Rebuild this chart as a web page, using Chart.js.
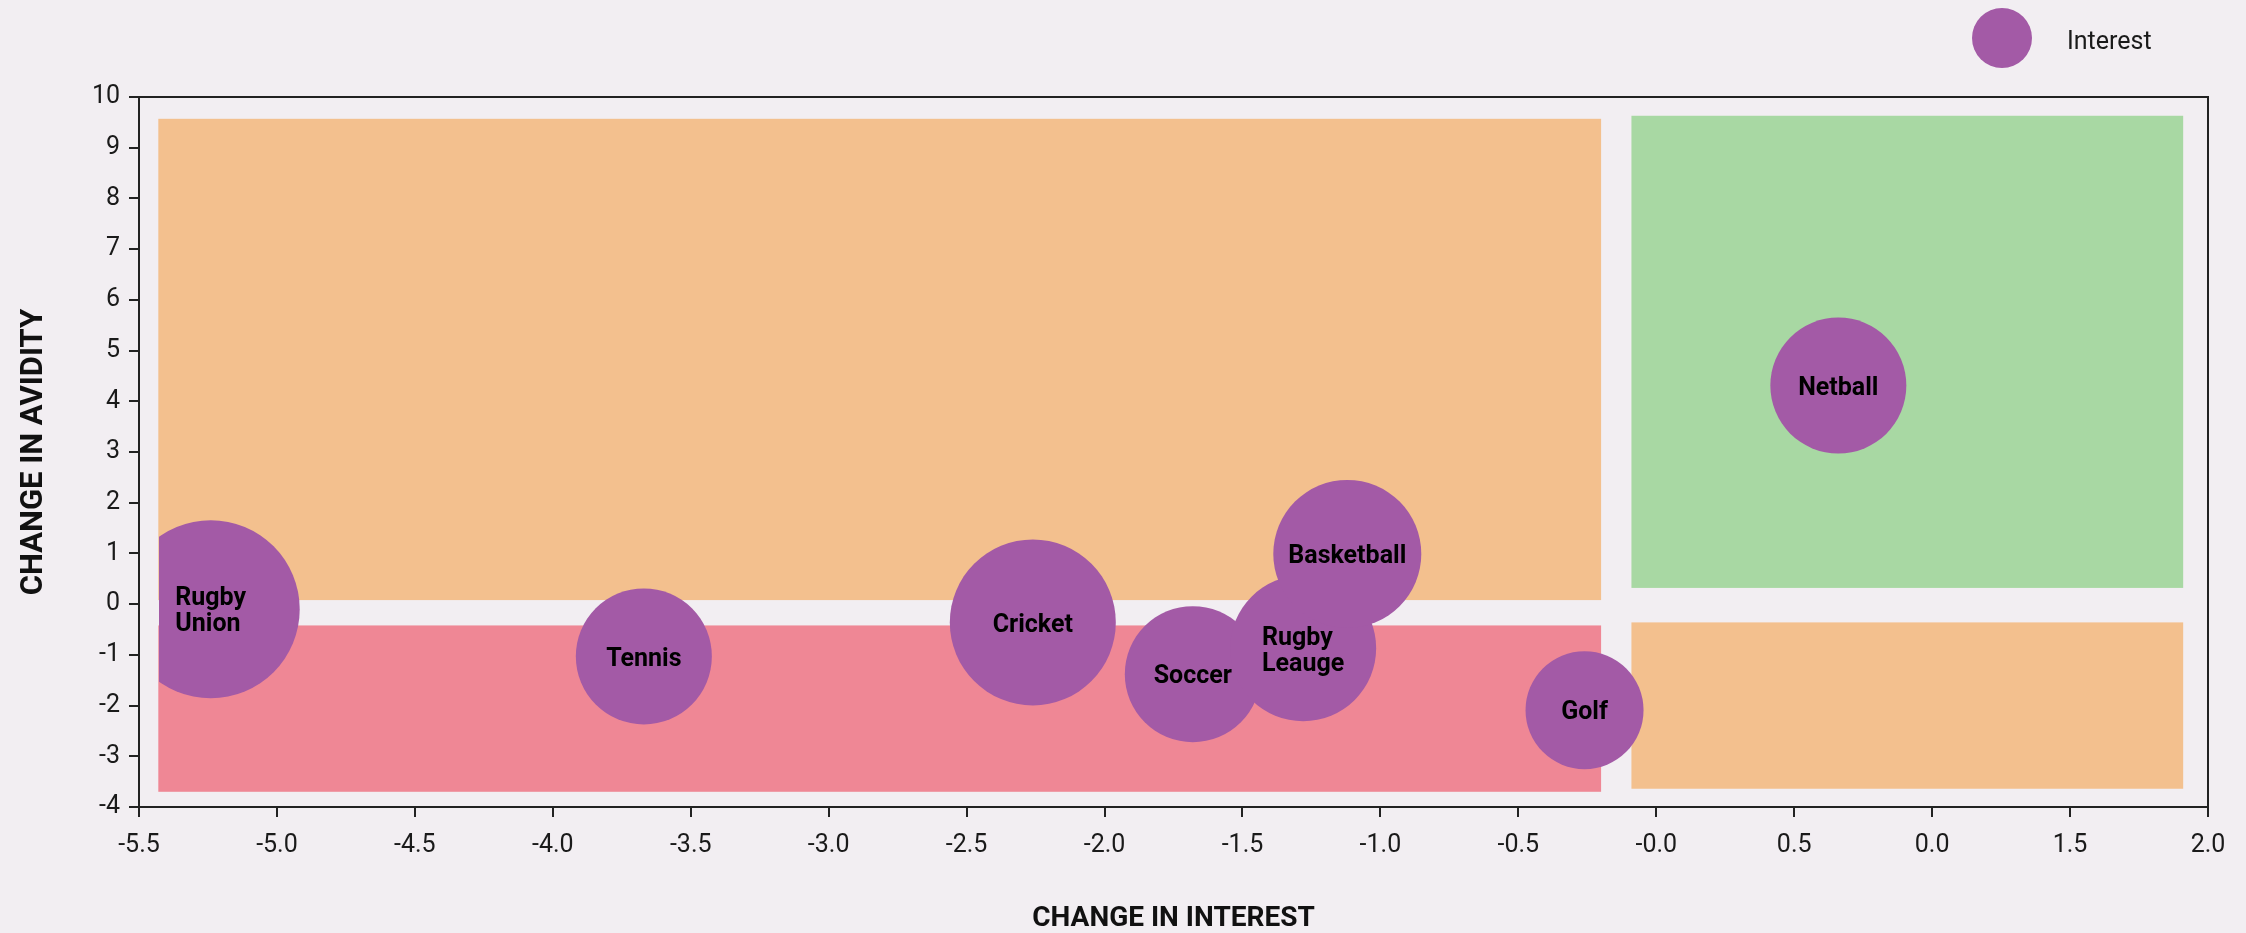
<!DOCTYPE html>
<html>
<head>
<meta charset="utf-8">
<script src="https://cdn.jsdelivr.net/npm/chart.js@4.4.1/dist/chart.umd.min.js"></script>
<style>
  html, body { margin: 0; padding: 0; background: #f2eef2; }
  #wrap { width: 2246px; height: 933px; position: relative; }
</style>
</head>
<body>
<div id="wrap"><canvas id="chart"></canvas></div>
<script>
// change in interest (x) vs change in avidity (y), bubble per sport
const sports = ['Rugby Union', 'Tennis', 'Cricket', 'Soccer', 'Rugby Leauge', 'Basketball', 'Golf', 'Netball'];
const interestChange = [-5.24, -3.67, -2.26, -1.68, -1.28, -1.12, -0.26, 0.66];
const avidityChange = [-0.10, -1.03, -0.36, -1.38, -0.87, 0.99, -2.09, 4.31];
const bubbleSize = [89, 68, 83, 68, 73, 74, 59, 68];

// the x labels as printed (yes, 1.0 shows as 0.0)
const xTickLabels = ['-5.5', '-5.0', '-4.5', '-4.0', '-3.5', '-3.0', '-2.5', '-2.0', '-1.5', '-1.0', '-0.5', '-0.0', '0.5', '0.0', '1.5', '2.0'];

// quadrant zones behind the bubbles
const zoneXMin = [-5.43, -5.43, -0.09, -0.09];
const zoneXMax = [-0.20, -0.20, 1.91, 1.91];
const zoneYMin = [0.08, -3.70, 0.32, -3.64];
const zoneYMax = [9.57, -0.42, 9.63, -0.36];
const zoneColors = ['#f3c08e', '#ef8795', '#a8d8a3', '#f3c08e'];

const FONT = 'Roboto, "Liberation Sans", sans-serif';
const PURPLE = '#a35aa6';
const INK = '#1a1a1a';

const zonesPlugin = {
  id: 'zones',
  beforeDatasetsDraw(chart) {
    const { ctx, chartArea: a, scales: { x, y } } = chart;
    ctx.save();
    zoneColors.forEach((c, i) => {
      const l = x.getPixelForValue(zoneXMin[i]), r = x.getPixelForValue(zoneXMax[i]);
      const t = y.getPixelForValue(zoneYMax[i]), b = y.getPixelForValue(zoneYMin[i]);
      ctx.fillStyle = c;
      ctx.fillRect(l, t, r - l, b - t);
    });
    // top + right frame lines
    ctx.strokeStyle = '#222';
    ctx.lineWidth = 2;
    ctx.beginPath();
    ctx.moveTo(a.left, a.top);
    ctx.lineTo(a.right, a.top);
    ctx.lineTo(a.right, a.bottom);
    ctx.stroke();
    ctx.restore();
  }
};

const labelsPlugin = {
  id: 'bubbleLabels',
  afterDatasetsDraw(chart) {
    const { ctx } = chart;
    const meta = chart.getDatasetMeta(0);
    ctx.save();
    ctx.font = 'bold 25px ' + FONT;
    ctx.fillStyle = '#000';
    ctx.textAlign = 'left';
    ctx.textBaseline = 'middle';
    meta.data.forEach((pt, i) => {
      const lines = sports[i].split(' ');
      const w = Math.max(...lines.map(s => ctx.measureText(s).width));
      const lh = 26;
      const y0 = pt.y + 3 - (lines.length - 1) * lh / 2;
      lines.forEach((s, k) => ctx.fillText(s, pt.x - w / 2, y0 + k * lh));
    });
    ctx.restore();
  }
};

const legendPlugin = {
  id: 'legendMark',
  afterDraw(chart) {
    const { ctx } = chart;
    ctx.save();
    ctx.fillStyle = PURPLE;
    ctx.beginPath();
    ctx.arc(2002, 38, 30, 0, Math.PI * 2);
    ctx.fill();
    ctx.fillStyle = INK;
    ctx.font = '25px ' + FONT;
    ctx.textBaseline = 'middle';
    ctx.fillText(chart.data.datasets[0].label, 2067, 43);
    ctx.restore();
  }
};

new Chart(document.getElementById('chart'), {
  type: 'bubble',
  data: {
    datasets: [{
      label: 'Interest',
      data: sports.map((s, i) => ({ x: interestChange[i], y: avidityChange[i], r: bubbleSize[i] })),
      backgroundColor: PURPLE,
      borderWidth: 0,
      hoverRadius: 0,
      clip: { left: -20, top: false, right: false, bottom: false }
    }]
  },
  options: {
    responsive: true,
    maintainAspectRatio: false,
    animation: false,
    layout: { autoPadding: false, padding: { top: 97, right: 38, bottom: 0, left: 0 } },
    plugins: { legend: { display: false }, tooltip: { enabled: false } },
    scales: {
      x: {
        type: 'linear', min: -5.5, max: 2,
        afterFit(s) { s.height = 126; },
        ticks: {
          stepSize: 0.5, autoSkip: false, maxRotation: 0, padding: 14, color: INK,
          font: { family: FONT, size: 25 },
          callback: (v, i) => xTickLabels[i]
        },
        grid: { drawOnChartArea: false, drawTicks: true, tickLength: 10, color: '#222', lineWidth: 2 },
        border: { display: true, color: '#222', width: 2 },
        title: {
          display: true, text: 'CHANGE IN INTEREST', color: '#111',
          font: { family: FONT, size: 28, weight: 'bold', lineHeight: 0.9 },
          padding: { top: 0, bottom: 1 }
        }
      },
      y: {
        type: 'linear', min: -4, max: 10,
        afterFit(s) { s.width = 139; },
        ticks: { stepSize: 1, padding: 9, color: INK, font: { family: FONT, size: 25 } },
        grid: { drawOnChartArea: false, drawTicks: true, tickLength: 10, color: '#222', lineWidth: 2 },
        border: { display: true, color: '#222', width: 2 },
        title: {
          display: true, text: 'CHANGE IN AVIDITY', color: '#111',
          font: { family: FONT, size: 31, weight: 'bold', lineHeight: 0.9 },
          padding: { top: 20, bottom: 0 }
        }
      }
    }
  },
  plugins: [zonesPlugin, labelsPlugin, legendPlugin]
});
</script>
</body>
</html>
